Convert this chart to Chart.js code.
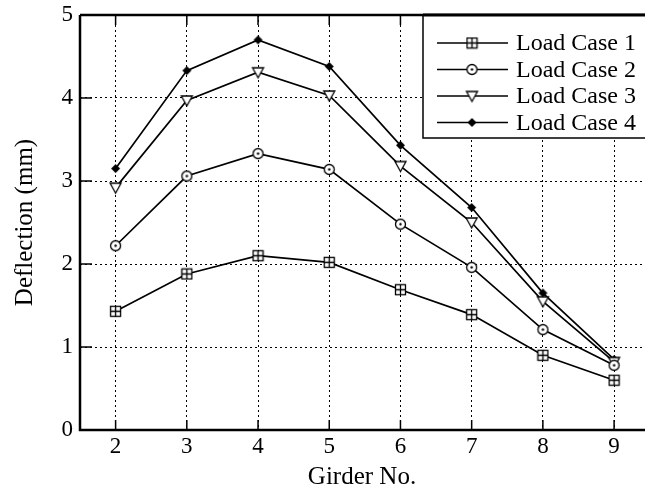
<!DOCTYPE html>
<html>
<head>
<meta charset="utf-8">
<script src="https://cdn.jsdelivr.net/npm/chart.js@4.4.1/dist/chart.umd.min.js"></script>
<style>
  html, body { margin: 0; padding: 0; background: #fff; overflow: hidden; }
  canvas { display: block; }
</style>
</head>
<body>
<canvas id="chart" width="645" height="492"></canvas>
<script>
// === Data ===
const girders = [2, 3, 4, 5, 6, 7, 8, 9];
const loadCase1 = [1.43, 1.88, 2.10, 2.02, 1.69, 1.39, 0.90, 0.60];
const loadCase2 = [2.22, 3.06, 3.33, 3.14, 2.48, 1.96, 1.21, 0.78];
const loadCase3 = [2.92, 3.97, 4.31, 4.03, 3.18, 2.50, 1.55, 0.82];
const loadCase4 = [3.15, 4.33, 4.70, 4.38, 3.43, 2.68, 1.65, 0.85];
const seriesNames = ["Load Case 1", "Load Case 2", "Load Case 3", "Load Case 4"];
const yTicks = [0, 1, 2, 3, 4, 5];

const FONT = "'Liberation Serif', 'DejaVu Serif', serif";

// === Marker images ===
function marker(size, draw) {
  const c = document.createElement("canvas");
  c.width = size; c.height = size;
  const g = c.getContext("2d");
  g.strokeStyle = "#000"; g.fillStyle = "#000"; g.lineWidth = 1.3;
  draw(g, size / 2);
  return c;
}
const squareCross = marker(13, (g, m) => {
  g.fillStyle = "#fff";
  g.fillRect(1.5, 1.5, 10, 10);
  g.strokeRect(1.5, 1.5, 10, 10);
  g.beginPath();
  g.moveTo(m, 1.5); g.lineTo(m, 11.5);
  g.moveTo(1.5, m); g.lineTo(11.5, m);
  g.stroke();
});
const circleDot = marker(13, (g, m) => {
  g.fillStyle = "#fff";
  g.beginPath(); g.arc(m, m, 5, 0, Math.PI * 2); g.fill(); g.stroke();
  g.fillStyle = "#000";
  g.beginPath(); g.arc(m, m, 1.2, 0, Math.PI * 2); g.fill();
});
const triDown = marker(15, (g, m) => {
  g.fillStyle = "#fff";
  g.beginPath();
  g.moveTo(2, 3); g.lineTo(13, 3); g.lineTo(m, 13); g.closePath();
  g.fill(); g.stroke();
});
const diamond = marker(11, (g, m) => {
  g.beginPath();
  g.moveTo(m, 1); g.lineTo(10, m); g.lineTo(m, 10); g.lineTo(1, m); g.closePath();
  g.fill();
});
const markers = [squareCross, circleDot, triDown, diamond];

const seriesValues = [loadCase1, loadCase2, loadCase3, loadCase4];
const datasets = seriesValues.map((vals, i) => ({
  label: seriesNames[i],
  data: girders.map((g, j) => ({ x: g, y: vals[j] })),
  borderColor: "#000",
  borderWidth: 1.7,
  pointStyle: markers[i],
  // image markers ignore the radius; keep it small so no extra layout padding
  pointRadius: 1,
  pointBorderWidth: 0,
  pointHoverRadius: 1,
  pointHoverBorderWidth: 0,
  clip: false,
  tension: 0,
}));

// === Frame, inside ticks and boxed legend ===
const framePlugin = {
  id: "frame",
  afterDraw(chart) {
    const { ctx, chartArea: a, scales } = chart;
    ctx.save();
    ctx.strokeStyle = "#000";
    // inner ticks
    ctx.lineWidth = 1.5;
    ctx.beginPath();
    girders.forEach((g) => {
      const x = scales.x.getPixelForValue(g);
      ctx.moveTo(x, a.bottom); ctx.lineTo(x, a.bottom - 10);
      ctx.moveTo(x, a.top); ctx.lineTo(x, a.top + 10);
    });
    yTicks.forEach((t) => {
      const y = scales.y.getPixelForValue(t);
      ctx.moveTo(a.left, y); ctx.lineTo(a.left + 12, y);
    });
    ctx.stroke();
    // axes lines
    ctx.lineWidth = 2.5;
    ctx.beginPath();
    ctx.moveTo(a.left, a.top); ctx.lineTo(a.left, a.bottom); ctx.lineTo(645, a.bottom);
    ctx.moveTo(a.left, a.top); ctx.lineTo(645, a.top);
    ctx.stroke();

    // legend box
    const bx = 423, by = 15, bw = 240, bh = 123;
    ctx.fillStyle = "#fff";
    ctx.fillRect(bx, by, bw, bh);
    ctx.lineWidth = 1.5;
    ctx.strokeRect(bx, by, bw, bh);
    ctx.lineWidth = 3;
    ctx.beginPath(); ctx.moveTo(bx, by); ctx.lineTo(645, by); ctx.stroke();
    ctx.font = "24px " + FONT;
    ctx.textBaseline = "middle";
    ctx.textAlign = "left";
    seriesNames.forEach((name, i) => {
      const y = 43 + i * 26.5;
      ctx.lineWidth = 1.7;
      ctx.beginPath(); ctx.moveTo(437, y); ctx.lineTo(508, y); ctx.stroke();
      const m = markers[i];
      ctx.drawImage(m, 472 - m.width / 2, y - m.height / 2);
      ctx.fillStyle = "#000";
      ctx.fillText(name, 516, y + 1);
    });
    ctx.restore();
  },
};

new Chart(document.getElementById("chart"), {
  type: "line",
  data: { datasets },
  options: {
    responsive: false,
    animation: false,
    layout: { padding: { top: 15, right: 0, left: 10, bottom: 0 } },
    plugins: { legend: { display: false }, tooltip: { enabled: false } },
    scales: {
      x: {
        type: "linear",
        min: 1.5,
        max: 9.42,
        afterBuildTicks: (s) => { s.ticks = girders.map((v) => ({ value: v })); },
        afterFit: (s) => { s.height = 62; s.paddingLeft = 0; s.paddingRight = 0; },
        grid: { color: "#000", lineWidth: 1, drawTicks: false },
        border: { display: false, dash: [2, 3] },
        ticks: { color: "#000", font: { family: FONT, size: 23 }, padding: 3, maxRotation: 0 },
        title: { display: true, text: "Girder No.", color: "#000", font: { family: FONT, size: 25 }, padding: { top: 0, bottom: 0 } },
      },
      y: {
        min: 0,
        max: 5,
        afterBuildTicks: (s) => { s.ticks = yTicks.map((v) => ({ value: v })); },
        afterFit: (s) => { s.width = 70; s.paddingTop = 0; s.paddingBottom = 0; },
        grid: { color: "#000", lineWidth: 1, drawTicks: false },
        border: { display: false, dash: [2, 3] },
        ticks: { color: "#000", font: { family: FONT, size: 23 }, padding: 7 },
        title: { display: true, text: "Deflection (mm)", color: "#000", font: { family: FONT, size: 25 }, padding: { top: 0, bottom: 0 } },
      },
    },
  },
  plugins: [framePlugin],
});
</script>
</body>
</html>
